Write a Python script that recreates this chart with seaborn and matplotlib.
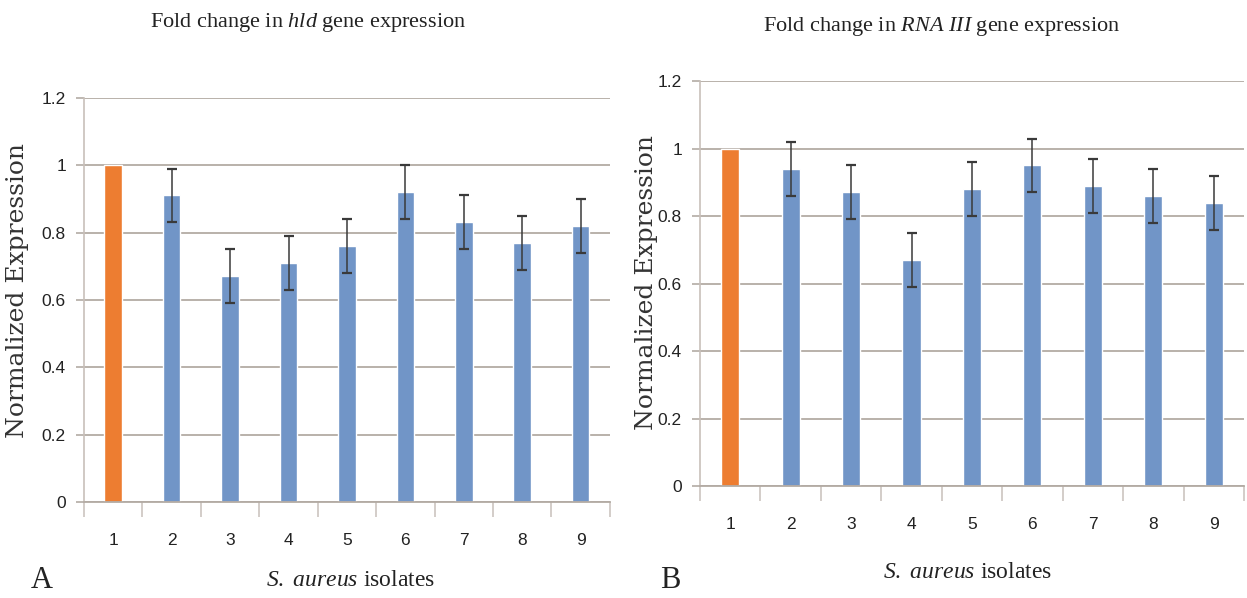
import numpy as np
import pandas as pd
import matplotlib
matplotlib.use("Agg")
import matplotlib.pyplot as plt
import seaborn as sns

isolates = ["1", "2", "3", "4", "5", "6", "7", "8", "9"]
hld_values = [1.00, 0.91, 0.67, 0.71, 0.76, 0.92, 0.83, 0.77, 0.82]
hld_errors = [0.00, 0.08, 0.08, 0.08, 0.08, 0.08, 0.08, 0.08, 0.08]
rna_values = [1.00, 0.94, 0.87, 0.67, 0.88, 0.95, 0.89, 0.86, 0.84]
rna_errors = [0.00, 0.08, 0.08, 0.08, 0.08, 0.08, 0.08, 0.08, 0.08]
y_ticks = [0, 0.2, 0.4, 0.6, 0.8, 1, 1.2]
y_tick_labels = ["0", "0.2", "0.4", "0.6", "0.8", "1", "1.2"]

ORANGE = "#ED7D31"
BLUE = "#7195C7"
GRID = "#B3ABA4"

sns.set_theme(style="white")
plt.rcParams["font.family"] = ["Liberation Serif", "DejaVu Serif"]
plt.rcParams["mathtext.fontset"] = "custom"
plt.rcParams["mathtext.it"] = "Liberation Serif:italic"
plt.rcParams["mathtext.rm"] = "Liberation Serif"
plt.rcParams["mathtext.bf"] = "Liberation Serif:bold"

fig = plt.figure(figsize=(12.47, 5.98), dpi=100)

tick_font = ["Liberation Sans", "DejaVu Sans"]


def panel(rect, values, errors):
    ax = fig.add_axes(rect)
    df = pd.DataFrame({"isolate": isolates, "value": values})
    colors = [ORANGE] + [BLUE] * (len(isolates) - 1)
    sns.barplot(data=df, x="isolate", y="value", hue="isolate", palette=colors,
                legend=False, width=0.3, ax=ax, saturation=1)
    xs = np.arange(len(isolates))
    ax.errorbar(xs[1:], values[1:], yerr=errors[1:], fmt="none",
                ecolor="#3A3A3A", elinewidth=1.1, capsize=3.5, capthick=1.6)
    ax.set_ylim(0, 1.2)
    ax.set_xlim(-0.5, len(isolates) - 0.5)
    ax.set_yticks(y_ticks)
    ax.set_yticklabels(y_tick_labels)
    ax.yaxis.grid(True, color=GRID, linewidth=1.3)
    ax.set_axisbelow(True)
    for s in ["top", "right"]:
        ax.spines[s].set_visible(False)
    ax.spines["left"].set_color("#C8C0BA")
    ax.spines["left"].set_linewidth(1.2)
    ax.spines["bottom"].set_color(GRID)
    ax.spines["bottom"].set_linewidth(1.3)
    ax.set_xticks(np.arange(-0.5, len(isolates)), minor=True)
    ax.tick_params(axis="x", which="major", length=0, pad=22)
    ax.tick_params(axis="x", which="minor", length=11, width=1.1,
                   color="#C8C0BA", direction="out", bottom=True)
    ax.tick_params(axis="y", which="major", length=6, width=1.2,
                   color=GRID, direction="out", left=True, pad=7)
    for lab in ax.get_xticklabels() + ax.get_yticklabels():
        lab.set_fontfamily(tick_font)
        lab.set_fontsize(12.5)
        lab.set_color("#222222")
    ax.set_xlabel("")
    ax.set_ylabel("")
    return ax


ax1 = panel([0.0674, 0.1605, 0.4216, 0.676], hld_values, hld_errors)
ax2 = panel([0.5613, 0.1873, 0.4363, 0.677], rna_values, rna_errors)

title_kw = dict(ha="center", va="center", fontsize=16, color="#222222")
fig.text(308 / 1247, 1 - 22 / 598, r"Fold change in $\mathit{hld}$ gene expression",
         **title_kw)
fig.text(942 / 1247, 1 - 26 / 598, r"Fold change in $\mathit{RNA\ III}$ gene expression",
         **title_kw)

xl_kw = dict(ha="center", va="center", fontsize=17, color="#222222")
fig.text(351 / 1247, 1 - 580 / 598, r"$\mathit{S.\ aureus}$ isolates", **xl_kw)
fig.text(968 / 1247, 1 - 573 / 598, r"$\mathit{S.\ aureus}$ isolates", **xl_kw)

yl_kw = dict(ha="center", va="center", rotation=90, fontsize=18,
             color="#333333", family=["DejaVu Serif"])
fig.text(18 / 1247, 1 - 290 / 598, "Normalized Expression", **yl_kw)
fig.text(647 / 1247, 1 - 282 / 598, "Normalized Expression", **yl_kw)

letter_kw = dict(ha="center", va="center", fontsize=22, color="#222222")
fig.text(42 / 1247, 1 - 580 / 598, "A", **letter_kw)
fig.text(670 / 1247, 1 - 580 / 598, "B", **letter_kw)

fig.savefig("out.png", dpi=100)
